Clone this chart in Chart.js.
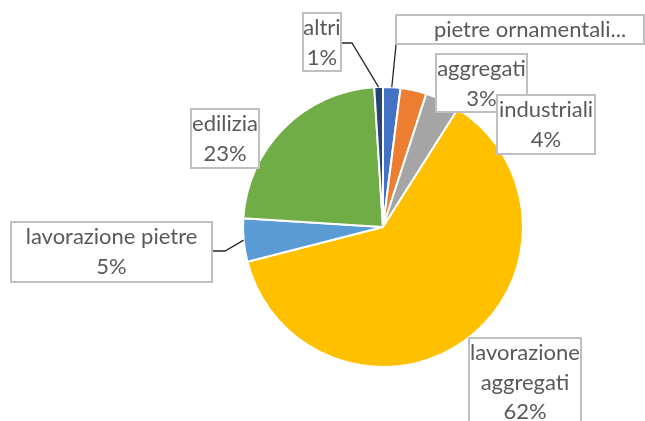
<!DOCTYPE html>
<html>
<head>
<meta charset="utf-8">
<title>Ripartizione</title>
<script src="https://cdn.jsdelivr.net/npm/chart.js@4.4.1/dist/chart.umd.min.js"></script>
<style>
    html, body { margin: 0; padding: 0; background: #ffffff; }
    #wrap { width: 645px; height: 421px; }
</style>
</head>
<body>
<div id="wrap"><canvas id="pieChart" width="645" height="421"></canvas></div>
<script>
// ============================================
// DATA
// ============================================
var categories = ['pietre ornamentali', 'aggregati', 'industriali', 'lavorazione aggregati', 'lavorazione pietre', 'edilizia', 'altri'];
var shares = [2, 3, 4, 62, 5, 23, 1];
var sliceColors = ['#4472C4', '#ED7D31', '#A5A5A5', '#FFC000', '#5B9BD5', '#70AD47', '#264478'];

// label boxes (page px) - lines of text, box rect, optional leader elbow/attach
var labelLayout = [
    { lines: ['pietre ornamentali...'], box: [396, 15, 248, 29], textX: 530, leader: { elbow: [396, 45], attach: [396, 45] } },
    { lines: ['aggregati', '{p}'], box: [436, 54, 91, 58] },
    { lines: ['industriali', '{p}'], box: [497, 95, 98, 59] },
    { lines: ['lavorazione', 'aggregati', '{p}'], box: [469, 338, 112, 92] },
    { lines: ['lavorazione pietre', '{p}'], box: [11, 222, 201, 60], leader: { elbow: [225, 251], attach: [212, 251] } },
    { lines: ['edilizia', '{p}'], box: [191, 109, 68, 59] },
    { lines: ['altri', '{p}'], box: [303, 13, 38, 58], leader: { elbow: [352, 43], attach: [341, 43] } }
];
var drawOrder = [0, 1, 2, 3, 4, 5, 6];

var labelFont = '22px Lato';
var lineHeight = 29.5;

// ============================================
// LABEL PLUGIN
// ============================================
var boxLabels = {
    id: 'boxLabels',
    afterDatasetsDraw: function(chart) {
        var ctx = chart.ctx;
        var meta = chart.getDatasetMeta(0);
        var total = 0;
        for (var i = 0; i < shares.length; i++) total += shares[i];

        ctx.save();
        // leader lines first
        for (var j = 0; j < labelLayout.length; j++) {
            var lay = labelLayout[j];
            if (!lay.leader) continue;
            var arc = meta.data[j].getProps(['x', 'y', 'startAngle', 'endAngle', 'outerRadius'], true);
            var mid = (arc.startAngle + arc.endAngle) / 2;
            var ax = arc.x + Math.cos(mid) * arc.outerRadius;
            var ay = arc.y + Math.sin(mid) * arc.outerRadius;
            ctx.beginPath();
            ctx.moveTo(ax, ay);
            ctx.lineTo(lay.leader.elbow[0], lay.leader.elbow[1]);
            ctx.lineTo(lay.leader.attach[0], lay.leader.attach[1]);
            ctx.strokeStyle = '#262626';
            ctx.lineWidth = 1.3;
            ctx.stroke();
        }

        // boxes + text
        ctx.font = labelFont;
        ctx.textAlign = 'center';
        ctx.textBaseline = 'middle';
        for (var k = 0; k < drawOrder.length; k++) {
            var idx = drawOrder[k];
            var l = labelLayout[idx];
            var b = l.box;
            ctx.fillStyle = '#ffffff';
            ctx.fillRect(b[0], b[1], b[2], b[3]);
            ctx.strokeStyle = '#BFBFBF';
            ctx.lineWidth = 2;
            ctx.strokeRect(b[0], b[1], b[2], b[3]);
            var pct = Math.round(shares[idx] / total * 100) + '%';
            var tx = l.textX || (b[0] + b[2] / 2);
            ctx.fillStyle = '#595959';
            for (var n = 0; n < l.lines.length; n++) {
                var txt = l.lines[n] === '{p}' ? pct : l.lines[n];
                ctx.fillText(txt, tx, b[1] + 15 + n * lineHeight);
            }
        }
        ctx.restore();
    }
};

// ============================================
// CHART
// ============================================
document.addEventListener('DOMContentLoaded', function() {
    var ctx = document.getElementById('pieChart').getContext('2d');
    new Chart(ctx, {
        type: 'pie',
        data: {
            labels: categories,
            datasets: [{
                data: shares,
                backgroundColor: sliceColors,
                borderColor: '#ffffff',
                borderWidth: 2
            }]
        },
        options: {
            responsive: false,
            animation: false,
            layout: { padding: { top: 86, bottom: 53, left: 242, right: 121 } },
            plugins: {
                legend: { display: false },
                tooltip: { enabled: false }
            }
        },
        plugins: [boxLabels]
    });
});
</script>
</body>
</html>
